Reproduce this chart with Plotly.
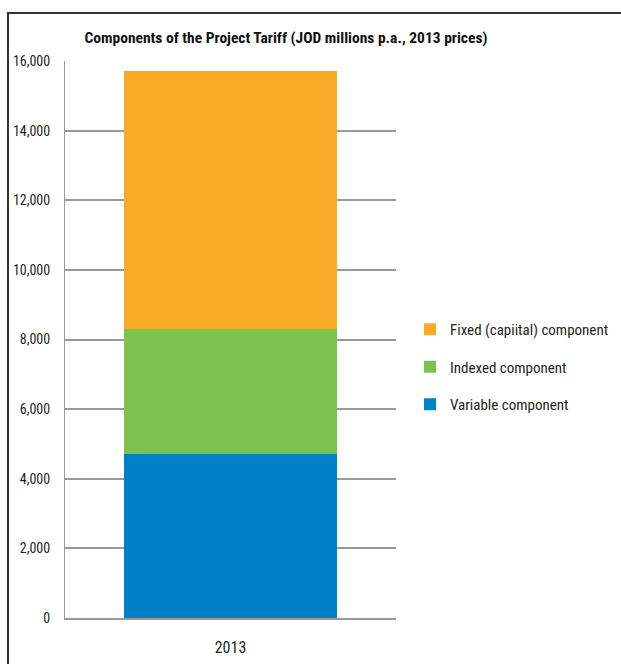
import plotly.graph_objects as go

categories = ["2013"]
series_names = ["Variable component", "Indexed component", "Fixed (capiital) component"]
variable_vals = [4700]
indexed_vals = [3600]
fixed_vals = [7400]
colors = ["#0080c6", "#7dc24f", "#f9ab25"]
legend_ranks = [3, 2, 1]
y_ticks = [0, 2000, 4000, 6000, 8000, 10000, 12000, 14000, 16000]

FONT = "Liberation Sans Narrow, Roboto Condensed, Arial Narrow, sans-serif"

fig = go.Figure()
for name, vals, col, rk in zip(series_names, [variable_vals, indexed_vals, fixed_vals], colors, legend_ranks):
    fig.add_trace(go.Bar(x=categories, y=vals, name=name, marker=dict(color=col, line=dict(width=0)),
                         width=0.644, legendgroup=name, legendrank=rk))

fig.update_layout(
    width=621, height=664,
    margin=dict(l=65, r=225, t=61, b=46, autoexpand=False),
    barmode="stack",
    plot_bgcolor="white", paper_bgcolor="white",
    font=dict(family=FONT, size=14, color="#231f20"),
    title=dict(text="Components of the Project Tariff (JOD millions p.a., 2013 prices)",
               x=286/621, xanchor="center", y=1-38/664, yanchor="middle",
               font=dict(family=FONT, size=15.5, color="#111111", weight="bold")),
    yaxis=dict(range=[0, 16000], tickvals=y_ticks, tickformat=",d",
               showgrid=True, gridcolor="#959a9f", gridwidth=2,
               showline=True, linecolor="#959a9f", linewidth=1,
               zeroline=False, ticks="", ticklabelstandoff=11, tickfont=dict(size=14)),
    xaxis=dict(showline=True, linecolor="#959a9f", linewidth=2, ticks="",
               tickfont=dict(size=16), ticklabelstandoff=14),
    legend=dict(x=(410-65)/331, xanchor="left", y=(618-313)/557, yanchor="top",
                traceorder="grouped", tracegroupgap=15,
                font=dict(size=15, color="#231f20"), bgcolor="rgba(0,0,0,0)"),
    shapes=[dict(type="rect", xref="paper", yref="paper",
                 x0=(8-65)/331, x1=2.0, y0=-0.3, y1=(618-13)/557,
                 line=dict(color="#333333", width=2), layer="below")],
)

fig.write_html("out.html")
